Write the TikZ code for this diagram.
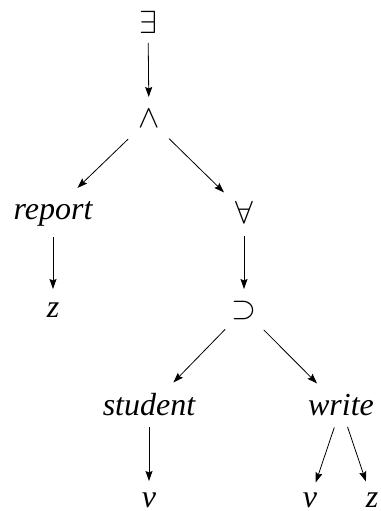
\documentclass[tikz,border=0pt]{standalone}
\usepackage{fontspec}
\setmainfont{Liberation Serif}
\usetikzlibrary{arrows.meta}
\tikzset{
  sym/.style={inner sep=0pt, anchor=center, font=\fontsize{10}{12}\selectfont, scale=3.2},
  wrd/.style={inner sep=0pt, anchor=center, text height=15pt, text depth=0pt,
              font=\fontsize{32}{38}\selectfont\itshape},
  arr/.style={line width=0.8pt, -{Stealth[length=10pt,width=7pt,inset=1.5pt]}}
}
\begin{document}
\begin{tikzpicture}[x=1pt,y=-1pt]
\useasboundingbox (0,0) rectangle (380,511);
% partial parenthesis at the left edge
\node[inner sep=0pt, anchor=center, font=\fontsize{32}{38}\selectfont] (paren) at (-5,118) {)};
% nodes
\node[sym] (E) at (148,22) {$\exists$};
\node[sym] (A) at (149,119) {$\wedge$};
\node[wrd] (report) at (53,211.5) {report};
\node[wrd] (z1) at (53,309.5) {z};
\node[sym] (F) at (244,212) {$\forall$};
\node[sym] (S) at (244,310) {$\supset$};
\node[wrd] (student) at (149,407.5) {student};
\node[wrd] (write) at (341,407.5) {write};
\node[wrd] (v1) at (149,499.5) {v};
\node[wrd] (v2) at (310,499.5) {v};
\node[wrd] (z2) at (372,499.5) {z};
% connectors
\draw[arr, shorten <=21pt, shorten >=22pt] (E.center) -- (A.center);
\draw[arr, shorten <=29pt, shorten >=34pt] (A.center) -- (report.center);
\draw[arr, shorten <=28pt, shorten >=28pt] (A.center) -- (F.center);
\draw[arr, shorten <=25.5pt, shorten >=20.5pt] (report.center) -- (z1.center);
\draw[arr, shorten <=24pt, shorten >=21pt] (F.center) -- (S.center);
\draw[arr, shorten <=27pt, shorten >=35pt] (S.center) -- (student.center);
\draw[arr, shorten <=28pt, shorten >=34pt] (S.center) -- (write.center);
\draw[arr, shorten <=19.5pt, shorten >=18.5pt] (student.center) -- (v1.center);
\draw[arr, shorten <=21pt, shorten >=18pt] (write.center) -- (v2.center);
\draw[arr, shorten <=20.5pt, shorten >=19pt] (write.center) -- (z2.center);
\end{tikzpicture}
\end{document}
